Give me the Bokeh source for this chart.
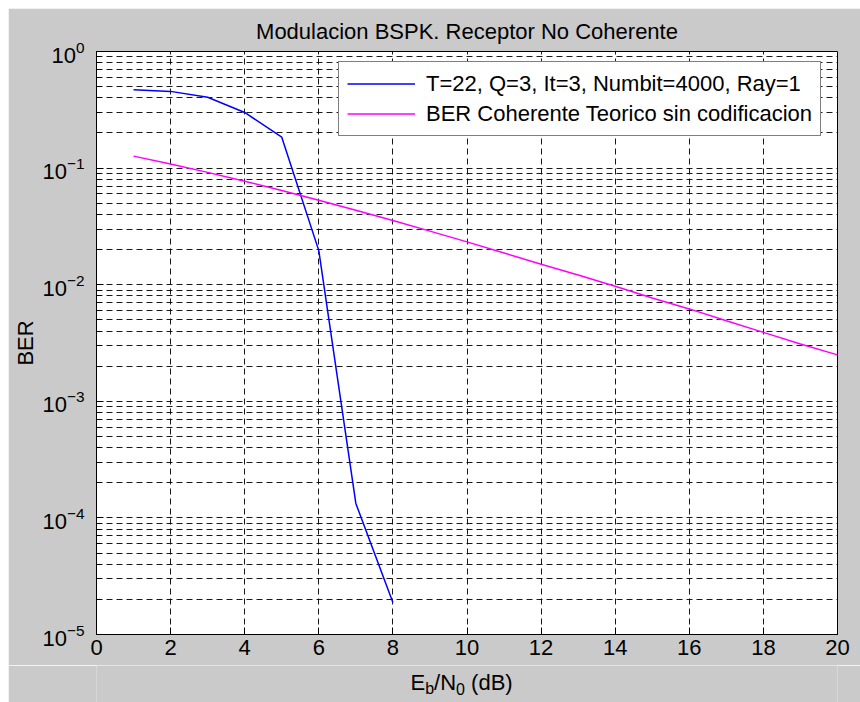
from bokeh.plotting import figure
from bokeh.layouts import column
from bokeh.models import (Range1d, FixedTicker, Legend, LegendItem)
from bokeh.core.properties import value
from bokeh.embed import file_html
from bokeh.resources import INLINE

# ---------------- data ----------------
title_text = "Modulacion BSPK. Receptor No Coherente"
y_label_text = "BER"
legend_labels = ["T=22, Q=3, It=3, Numbit=4000, Ray=1",
                 "BER Coherente Teorico sin codificacion"]

snr_sim = [1, 2, 3, 4, 5, 6, 7, 8]
ber_sim = [0.47, 0.455, 0.405, 0.30, 0.184, 0.0196, 1.33e-4, 1.88e-5]

snr_theory = [1, 2, 3, 4, 5, 6, 7, 8, 9, 10, 11, 12, 13, 14, 15, 16, 17, 18, 19, 20]
ber_theory = [0.1267, 0.1085, 0.0919, 0.0771, 0.0642, 0.0530, 0.0435, 0.0355,
              0.0288, 0.0233, 0.0187, 0.0150, 0.0121, 0.0097, 0.0077, 0.0062,
              0.0049, 0.0039, 0.0031, 0.0025]

x_ticks = [0, 2, 4, 6, 8, 10, 12, 14, 16, 18, 20]
y_ticks = [1e-5, 1e-4, 1e-3, 1e-2, 1e-1, 1e0]
y_minor = [m * 10.0 ** e for e in range(-5, 0) for m in range(2, 10)]

# x label pieces: E_b/N_0 (dB)
xlabel_main = ["E", "/N", "(dB)"]
xlabel_subs = ["b", "0"]

FONT = "Liberation Sans"
FS = "22px"
GRAY = "#cacaca"
GRID_DASH = "6 4"
BL, BR = 88, 23

p = figure(width=852, height=657, y_axis_type="log",
           x_range=Range1d(0, 20), y_range=Range1d(1e-5, 1),
           output_backend="svg", toolbar_location=None,
           min_border_left=BL, min_border_right=BR,
           min_border_top=43, min_border_bottom=31,
           background_fill_color="white", border_fill_color=GRAY,
           outline_line_color="black", outline_line_width=1)

p.title.text = title_text
p.title.align = "center"
p.title.text_font = FONT
p.title.text_font_size = FS
p.title.text_font_style = "normal"
p.title.text_color = "black"
p.title.standoff = 16

xt = FixedTicker(ticks=x_ticks)
yt = FixedTicker(ticks=y_ticks, minor_ticks=y_minor)
p.xaxis.ticker = xt
p.yaxis.ticker = yt

for ax in (p.xaxis[0], p.yaxis[0]):
    ax.major_tick_in = 7
    ax.major_tick_out = 0
    ax.minor_tick_in = 4
    ax.minor_tick_out = 0
    ax.axis_line_color = "black"
    ax.major_tick_line_color = "black"
    ax.minor_tick_line_color = "black"
    ax.major_label_text_font = FONT
    ax.major_label_text_font_size = FS
    ax.major_label_text_color = "black"
p.xaxis.minor_tick_line_color = None
p.xaxis.major_label_standoff = 5
p.yaxis.major_label_standoff = 12
p.yaxis.axis_label = y_label_text
p.yaxis.axis_label_text_font = FONT
p.yaxis.axis_label_text_font_size = FS
p.yaxis.axis_label_text_font_style = "normal"
p.yaxis.axis_label_text_color = "black"
p.yaxis.axis_label_standoff = 1

for g in (p.xgrid[0], p.ygrid[0]):
    g.grid_line_color = "black"
    g.grid_line_dash = GRID_DASH
    g.grid_line_alpha = 0.9
p.ygrid.minor_grid_line_color = "black"
p.ygrid.minor_grid_line_dash = GRID_DASH
p.ygrid.minor_grid_line_alpha = 0.9

r1 = p.line(snr_sim, ber_sim, line_color="#0000ff", line_width=1.5)
r2 = p.line(snr_theory, ber_theory, line_color="#ff00ff", line_width=1.5)

legend = Legend(items=[LegendItem(label=legend_labels[0], renderers=[r1]),
                       LegendItem(label=legend_labels[1], renderers=[r2])],
                location=(242, 498), padding=8, spacing=3,
                glyph_width=68, glyph_height=27, label_height=27,
                label_standoff=11, margin=0,
                label_text_font=FONT, label_text_font_size=FS,
                label_text_color="black",
                border_line_color="black", border_line_width=1,
                background_fill_color="white", background_fill_alpha=1)
p.add_layout(legend)

# strip below the chart holding the x-axis label with subscripts;
# it shares the chart's x scale so the label sits under the same frame
STRIP_H = 37
s = figure(width=852, height=STRIP_H, x_range=p.x_range,
           y_range=Range1d(0, STRIP_H), output_backend="svg",
           toolbar_location=None, x_axis_location=None, y_axis_location=None,
           min_border_left=BL, min_border_right=BR,
           min_border_top=0, min_border_bottom=0, outline_line_color=None,
           background_fill_color=GRAY, border_fill_color=GRAY)
s.xgrid.visible = False
s.ygrid.visible = False
s.text(x=[8.475, 9.112, 10.11], y=[20, 20, 20], text=xlabel_main,
       text_font=value(FONT), text_font_size=FS, text_color="black",
       text_align="left", text_baseline="alphabetic")
s.text(x=[8.872, 9.703], y=[14, 14], text=xlabel_subs,
       text_font=value(FONT), text_font_size="16px", text_color="black",
       text_align="left", text_baseline="alphabetic")

layout = column(p, s, spacing=0)
layout.margin = (8, 0, 0, 8)

open("out.html", "w").write(file_html(layout, INLINE))
